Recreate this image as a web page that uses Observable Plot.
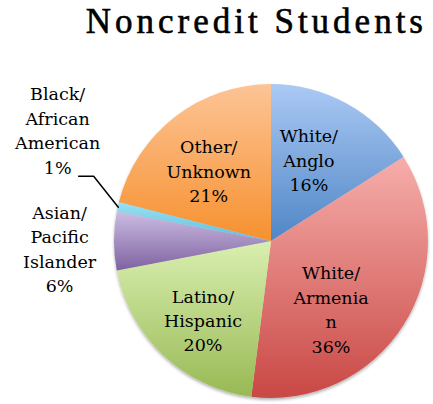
<!DOCTYPE html>
<html><head><meta charset="utf-8">
<script src="https://cdn.jsdelivr.net/npm/d3@7"></script>
<script src="https://cdn.jsdelivr.net/npm/@observablehq/plot@0.6"></script>
<style>
body{margin:0;background:#fff;}
#title{font-family:"Liberation Serif",serif;font-size:35px;letter-spacing:4px;text-align:right;padding-right:6px;height:44px;line-height:44px;color:#000;white-space:nowrap;-webkit-text-stroke:0.6px #000;}
#chart svg{display:block;overflow:visible;}
</style></head><body>
<div id="title">Noncredit Students</div>
<div id="chart"></div>
<script>
// ---- data ----
const categories = ["White/Anglo", "White/Armenian", "Latino/Hispanic", "Asian/Pacific Islander", "Black/African American", "Other/Unknown"];
const labels = ["White/\nAnglo\n16%", "White/\nArmenia\nn\n36%", "Latino/\nHispanic\n20%", "Asian/\nPacific\nIslander\n6%", "Black/\nAfrican\nAmerican\n1%", "Other/\nUnknown\n21%"];
const values = [16, 36, 20, 6, 1, 21];

// ---- style / layout ----
const topColors = ["#abc9f4", "#f6aeab", "#d9efb0", "#cbbde2", "#9be0f3", "#fdc496"];
const bottomColors = ["#4f86c6", "#c94845", "#98b954", "#7f62a1", "#5bc0de", "#f6912f"];
const W = 433, H = 360, CX = 271, CY = 197, R = 157;
const labelRadius = [0.6, 0.6, 0.6, 1.35, 1.35, 0.6];
const labelNudge = [[-8, 0], [-20, 16], [-4, 9], [0, 6], [-7, -66], [-5, 3]];

const arcs = d3.pie().sort(null).value(d => d)(values);
const mid = a => (a.startAngle + a.endAngle) / 2;

const labelRows = arcs.map((a, i) => {
  const m = mid(a), k = labelRadius[i];
  return {
    label: labels[i],
    x: k * Math.sin(m) + labelNudge[i][0] / R,
    y: k * Math.cos(m) - labelNudge[i][1] / R
  };
});

// leader line for the Black/African American slice
const bi = 4, bl = labelRows[bi], bm = mid(arcs[bi]);
const leader = [
  {x: bl.x + 21 / R, y: bl.y - 47 / R},
  {x: bl.x + 36 / R, y: bl.y - 47 / R},
  {x: Math.sin(bm), y: Math.cos(bm)}
];

function pieMark(index, scales) {
  const x = scales.x, y = scales.y;
  const cx0 = x(0), cy0 = y(0), r = x(1) - x(0);
  const g = d3.create("svg:g");
  const defs = g.append("defs");
  const f = defs.append("filter").attr("id", "pshadow").attr("x", "-10%").attr("y", "-10%").attr("width", "120%").attr("height", "125%");
  f.append("feDropShadow").attr("dx", 0).attr("dy", 2).attr("stdDeviation", 1.6).attr("flood-color", "#000").attr("flood-opacity", 0.3);
  arcs.forEach((a, i) => {
    const lg = defs.append("linearGradient").attr("id", "sg" + i).attr("x1", 0).attr("y1", 0).attr("x2", 0).attr("y2", 1);
    lg.append("stop").attr("offset", "0%").attr("stop-color", topColors[i]);
    lg.append("stop").attr("offset", "100%").attr("stop-color", bottomColors[i]);
  });
  const arcGen = d3.arc().innerRadius(0).outerRadius(r);
  const pg = g.append("g").attr("transform", `translate(${cx0},${cy0})`).attr("filter", "url(#pshadow)");
  pg.selectAll("path").data(arcs).join("path")
    .attr("d", arcGen)
    .attr("fill", (d, i) => `url(#sg${i})`)
    .append("title").text((d, i) => `${categories[i]}: ${values[i]}%`);
  return g.node();
}

const chart = Plot.plot({
  width: W,
  height: H,
  marginTop: 0, marginBottom: 0, marginLeft: 0, marginRight: 0,
  x: {domain: [-CX / R, (W - CX) / R], axis: null},
  y: {domain: [-(H - CY) / R, CY / R], axis: null},
  style: {background: "white"},
  marks: [
    pieMark,
    Plot.line(leader, {x: "x", y: "y", stroke: "#000", strokeWidth: 1.5}),
    Plot.text(labelRows, {
      x: "x", y: "y", text: "label",
      fontFamily: "DejaVu Serif", fontSize: 17.5, lineHeight: 1.4,
      fill: "#000", textAnchor: "middle"
    })
  ]
});
document.getElementById("chart").appendChild(chart);
</script>
</body></html>
